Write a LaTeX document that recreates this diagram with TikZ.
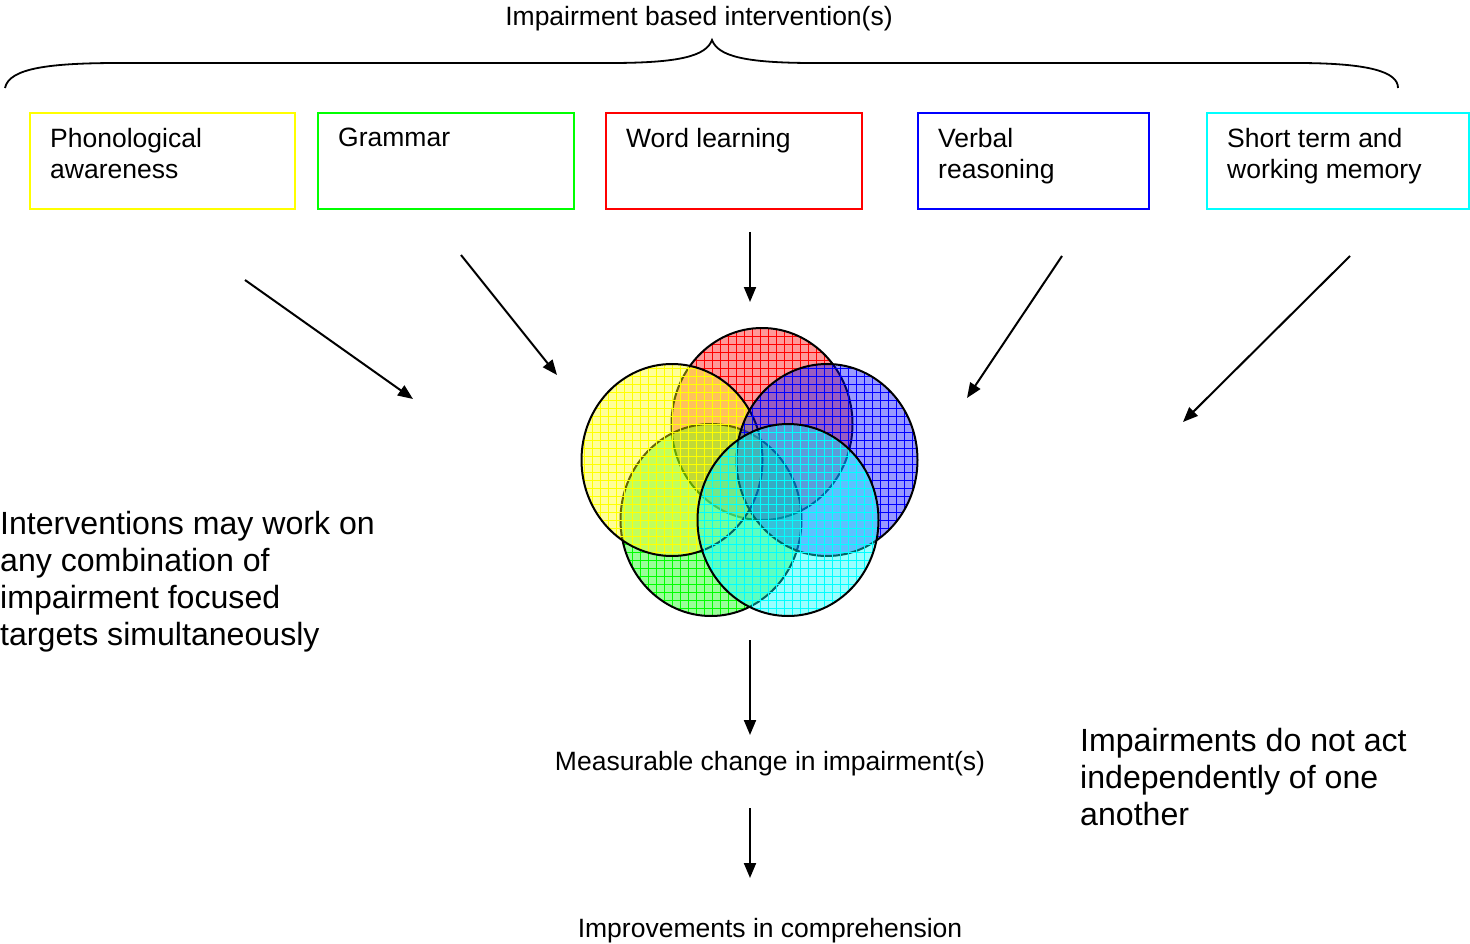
\documentclass[tikz,border=0pt]{standalone}
\usepackage{fontspec}
\setmainfont{Liberation Sans}
\usetikzlibrary{arrows.meta,patterns.meta}
\definecolor{pgreen}{RGB}{0,255,0}
\definecolor{pyellow}{RGB}{255,255,0}
\definecolor{pred}{RGB}{255,0,0}
\definecolor{pblue}{RGB}{0,0,255}
\definecolor{pcyan}{RGB}{0,255,255}
\begin{document}
\begin{tikzpicture}[x=1pt,y=-1pt,
  lbl/.style={inner sep=0pt, font=\fontsize{26.5}{31.5}\selectfont},
  boxtext/.style={inner sep=0pt, anchor=north west, align=left, font=\fontsize{26.5}{31.5}\selectfont},
  big/.style={inner sep=0pt, anchor=north west, align=left, font=\fontsize{32.1}{37}\selectfont},
  tbox/.style={draw=#1, line width=1.8pt, inner sep=0pt, anchor=north west, minimum height=96pt},
  arr/.style={line width=2pt, -{Triangle[length=15pt,width=12pt]}},
  vfill/.style={fill=#1, fill opacity=0.4},
  vgrid/.style={pattern={Hatch[angle=0,distance=8pt,line width=0.7pt]}, pattern color=#1, fill opacity=0.3},
  vline/.style={draw=black, line width=2pt}
]
\useasboundingbox (0,0) rectangle (1470,944);

% title and brace
\node[lbl, anchor=base] (title) at (699,26) {Impairment based intervention(s)};
\draw[line width=1.8pt] (5,88) .. controls (9,68) and (50,63) .. (120,63) -- (610,63)
  .. controls (680,63) and (706,56) .. (712,40)
  .. controls (718,56) and (744,63) .. (814,63) -- (1296,63)
  .. controls (1370,63) and (1398,72) .. (1398,88);

% boxes
\node[tbox=pyellow, minimum width=265pt] (bpa) at (29,112) {};
\node[boxtext] (tpa) at (50,128) {Phonological\\awareness};
\node[tbox=pgreen, minimum width=256pt] (bgr) at (317,112) {};
\node[boxtext] (tgr) at (338,128) {Grammar};
\node[tbox=pred, minimum width=256pt] (bwl) at (605,112) {};
\node[boxtext] (twl) at (626,128) {Word learning};
\node[tbox=pblue, minimum width=231pt] (bvr) at (917,112) {};
\node[boxtext] (tvr) at (938,128) {Verbal\\reasoning};
\node[tbox=pcyan, minimum width=262pt] (bwm) at (1206,112) {};
\node[boxtext] (twm) at (1227,128) {Short term and\\working memory};

% arrows from boxes
\coordinate (a1s) at (245,280); \coordinate (a1e) at (413,399);
\coordinate (a2s) at (461,255); \coordinate (a2e) at (557,375);
\coordinate (a3s) at (750,232); \coordinate (a3e) at (750,302);
\coordinate (a4s) at (1062,256); \coordinate (a4e) at (967,398);
\coordinate (a5s) at (1350,256); \coordinate (a5e) at (1183,422);
\draw[arr] (a1s) -- (a1e);
\draw[arr] (a2s) -- (a2e);
\draw[arr] (a3s) -- (a3e);
\draw[arr] (a4s) -- (a4e);
\draw[arr] (a5s) -- (a5e);

% venn circles (order: red, green, yellow, blue, cyan)
\foreach \cx/\cy/\col in {762/424/pred, 711/520/pgreen, 672/460/pyellow, 827/460/pblue, 788/520/pcyan}{
  \path[vfill=\col] (\cx,\cy) ellipse [x radius=90.5pt, y radius=96pt];
  \path[vgrid=\col] (\cx,\cy) ellipse [x radius=90.5pt, y radius=96pt];
  \path[vline] (\cx,\cy) ellipse [x radius=90.5pt, y radius=96pt];
}

% lower chain
\node[lbl, anchor=base] (meas) at (770,770) {Measurable change in impairment(s)};
\node[lbl, anchor=base] (impr) at (770,937) {Improvements in comprehension};
\coordinate (a6s) at (750,640); \coordinate (a6e) at (750,735);
\coordinate (a7s) at (750,808); \coordinate (a7e) at (750,878);
\draw[arr] (a6s) -- (a6e);
\draw[arr] (a7s) -- (a7e);

% side notes
\node[big] (left) at (0,511) {Interventions may work on\\any combination of\\impairment focused\\targets simultaneously};
\node[big] (right) at (1080,728) {Impairments do not act\\independently of one\\another};
\end{tikzpicture}
\end{document}
